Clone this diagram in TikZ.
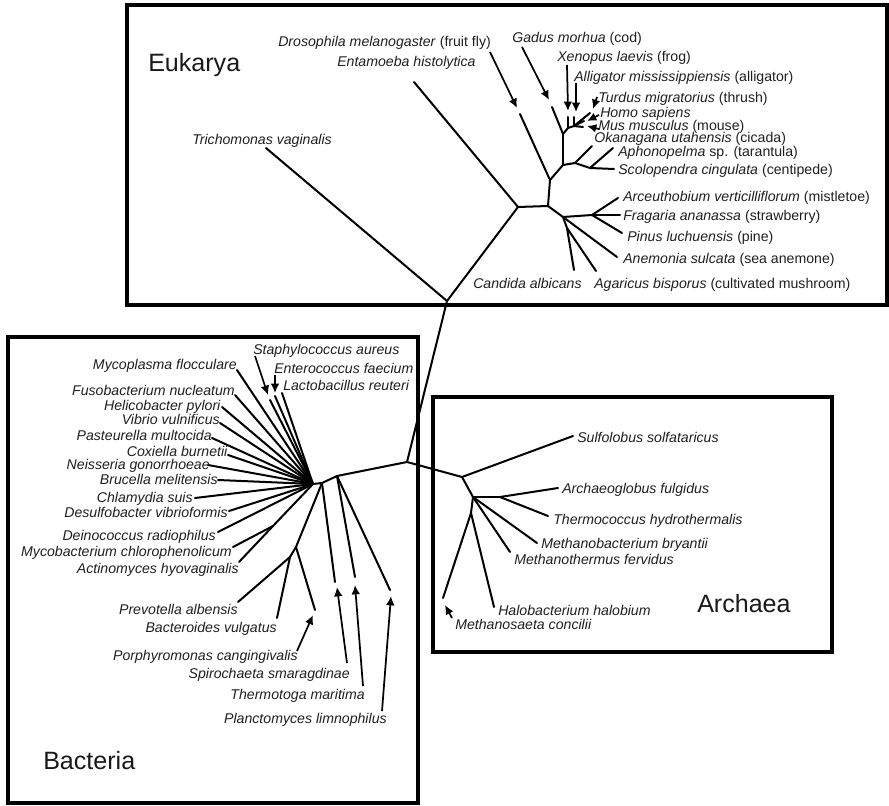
\documentclass[tikz,border=0pt]{standalone}
\usepackage{fontspec}
\setmainfont{Liberation Sans}
\usetikzlibrary{arrows.meta}
\begin{document}
\begin{tikzpicture}[x=0.75pt,y=-0.75pt,
  br/.style={line width=1.5pt, line cap=round, line join=round},
  domainbox/.style={line width=2.4pt},
  ptr/.style={line width=1.3pt, -{Latex[length=7pt,width=6.5pt]}},
  lab/.style={inner sep=0pt, text=black!88, font=\fontsize{10.6}{12}\selectfont},
  dom/.style={inner sep=0pt, text=black!90, font=\fontsize{18.8}{22}\selectfont}]
\useasboundingbox (0,0) rectangle (889,806);

% domain boxes
\draw[domainbox] (127,5) rectangle (887,305);
\draw[domainbox] (8,337) rectangle (418,803);
\draw[domainbox] (433,397) rectangle (832,652);

\node[dom, anchor=base west] (dEuk) at (148,72) {Eukarya};
\node[dom, anchor=base west] (dBac) at (43,769) {Bacteria};
\node[dom, anchor=base west] (dArc) at (697,612) {Archaea};

% ---------------- tree coordinates ----------------
\coordinate (R) at (407,462);
% Eukarya
\coordinate (E0) at (447,301);
\coordinate (lTri) at (266,148);
\coordinate (E1) at (518,207);
\coordinate (lEnt) at (414,82);
\coordinate (E2) at (548,206);
\coordinate (E3) at (550,180);
\coordinate (lDro) at (520,114);
\coordinate (E4) at (563,165);
\coordinate (V0) at (563,134);
\coordinate (lGad) at (552,107);
\coordinate (V1) at (568,128);
\coordinate (lXen) at (568,117);
\coordinate (V2) at (574,126);
\coordinate (lAll) at (574,117);
\coordinate (lTur) at (590,113);
\coordinate (lHom) at (584,121);
\coordinate (lMus) at (583,127);
\coordinate (E7) at (575,163);
\coordinate (lOka) at (592,146);
\coordinate (E9) at (590,168);
\coordinate (lAph) at (613,148);
\coordinate (lSco) at (614,169);
\coordinate (E5) at (563,217);
\coordinate (E6) at (592,215);
\coordinate (lArc) at (618,198);
\coordinate (lFra) at (620,215);
\coordinate (lPin) at (622,233);
\coordinate (lAne) at (617,257);
\coordinate (E8) at (567,228);
\coordinate (lCan) at (574,270);
\coordinate (lAga) at (596,271);
% Bacteria
\coordinate (B0) at (337,476);
\coordinate (B1) at (322,483);
\coordinate (F) at (313,484);
\coordinate (lSta) at (270,400);
\coordinate (lEnc) at (275,396);
\coordinate (lLac) at (282,393);
\coordinate (lMyp) at (237,370);
\coordinate (lFus) at (235,395);
\coordinate (lHel) at (222,407);
\coordinate (lVib) at (220,423);
\coordinate (lPas) at (212,438);
\coordinate (lCox) at (228,455);
\coordinate (lNei) at (208,465);
\coordinate (lBru) at (218,480);
\coordinate (lChl) at (195,498);
\coordinate (lDes) at (229,511);
\coordinate (lDei) at (218,532);
\coordinate (BM) at (273,526);
\coordinate (lMyb) at (233,547);
\coordinate (lAct) at (239,562);
\coordinate (B3) at (296,547);
\coordinate (B4) at (290,557);
\coordinate (lPre) at (238,602);
\coordinate (lBcd) at (277,618);
\coordinate (lPor) at (315,610);
\coordinate (lSpi) at (335,582);
\coordinate (lThm) at (355,577);
\coordinate (lPla) at (390,590);
% Archaea
\coordinate (A0) at (462,477);
\coordinate (lSul) at (573,436);
\coordinate (A1) at (473,497);
\coordinate (A2) at (500,497);
\coordinate (lArg) at (558,488);
\coordinate (lThc) at (548,516);
\coordinate (lMbb) at (537,543);
\coordinate (lMtf) at (510,552);
\coordinate (A3) at (471,513);
\coordinate (lMsa) at (443,598);
\coordinate (lHal) at (494,607);

% ---------------- branches ----------------
\draw[br] (R) -- (E0);
\draw[br] (E0) -- (lTri);
\draw[br] (E0) -- (E1);
\draw[br] (E1) -- (lEnt);
\draw[br] (E1) -- (E2);
\draw[br] (E2) -- (E3);
\draw[br] (E3) -- (lDro);
\draw[br] (E3) -- (E4);
\draw[br] (E4) -- (V0);
\draw[br] (V0) -- (lGad);
\draw[br] (V0) -- (V1);
\draw[br] (V1) -- (lXen);
\draw[br] (V1) -- (V2);
\draw[br] (V2) -- (lAll);
\draw[br] (V2) -- (lTur);
\draw[br] (V2) -- (lHom);
\draw[br] (V2) -- (lMus);
\draw[br] (E4) -- (E7);
\draw[br] (E7) -- (lOka);
\draw[br] (E7) -- (E9);
\draw[br] (E9) -- (lAph);
\draw[br] (E9) -- (lSco);
\draw[br] (E2) -- (E5);
\draw[br] (E5) -- (E6);
\draw[br] (E6) -- (lArc);
\draw[br] (E6) -- (lFra);
\draw[br] (E6) -- (lPin);
\draw[br] (E5) -- (lAne);
\draw[br] (E5) -- (E8);
\draw[br] (E8) -- (lCan);
\draw[br] (E8) -- (lAga);

\draw[br] (R) -- (B0);
\draw[br] (B0) -- (B1);
\draw[br] (B1) -- (F);
\foreach \l in {lSta,lEnc,lLac,lMyp,lFus,lHel,lVib,lPas,lCox,lNei,lBru,lChl,lDes,lDei,BM}
  \draw[br] (F) -- (\l);
\draw[br] (BM) -- (lMyb);
\draw[br] (BM) -- (lAct);
\draw[br] (B1) -- (B3);
\draw[br] (B3) -- (B4);
\draw[br] (B4) -- (lPre);
\draw[br] (B4) -- (lBcd);
\draw[br] (B3) -- (lPor);
\draw[br] (B1) -- (lSpi);
\draw[br] (B0) -- (lThm);
\draw[br] (B0) -- (lPla);

\draw[br] (R) -- (A0);
\draw[br] (A0) -- (lSul);
\draw[br] (A0) -- (A1);
\draw[br] (A1) -- (A2);
\draw[br] (A2) -- (lArg);
\draw[br] (A2) -- (lThc);
\draw[br] (A1) -- (lMbb);
\draw[br] (A1) -- (lMtf);
\draw[br] (A1) -- (A3);
\draw[br] (A3) -- (lMsa);
\draw[br] (A3) -- (lHal);

% ---------------- pointer arrows ----------------
\coordinate (pDro0) at (490,52);   \coordinate (pDro1) at (517,108);
\coordinate (pGad0) at (522,47);   \coordinate (pGad1) at (549,100);
\coordinate (pXen0) at (567,65);   \coordinate (pXen1) at (568,111);
\coordinate (pAll0) at (576,83);   \coordinate (pAll1) at (576,112);
\coordinate (pTur0) at (597,97);   \coordinate (pTur1) at (593,109);
\coordinate (pHom0) at (599,115);  \coordinate (pHom1) at (587,121);
\coordinate (pMus0) at (599,129);  \coordinate (pMus1) at (587,126);
\coordinate (pSta0) at (255,356);  \coordinate (pSta1) at (268,395);
\coordinate (pEnc0) at (275,375);  \coordinate (pEnc1) at (275,393);
\coordinate (pPor0) at (297,651);  \coordinate (pPor1) at (313,615);
\coordinate (pSpi0) at (347,663);  \coordinate (pSpi1) at (337,587);
\coordinate (pThm0) at (363,686);  \coordinate (pThm1) at (355,585);
\coordinate (pPla0) at (382,711);  \coordinate (pPla1) at (391,596);
\coordinate (pMsa0) at (452,618);  \coordinate (pMsa1) at (445,605);
\foreach \p in {Dro,Gad,Xen,All,Tur,Hom,Mus,Sta,Enc,Por,Spi,Thm,Pla,Msa}
  \draw[ptr] (p\p0) -- (p\p1);

% ---------------- labels ----------------
\node[lab, anchor=base west] (tDro) at (278,47) {\textit{Drosophila melanogaster} (fruit fly)};
\node[lab, anchor=base west] (tEnt) at (337,67) {\textit{Entamoeba histolytica}};
\node[lab, anchor=base west] (tTri) at (192,145) {\textit{Trichomonas vaginalis}};
\node[lab, anchor=base west] (tGad) at (512,43) {\textit{Gadus morhua} (cod)};
\node[lab, anchor=base west] (tXen) at (557,62) {\textit{Xenopus laevis} (frog)};
\node[lab, anchor=base west] (tAll) at (574,82) {\textit{Alligator mississippiensis} (alligator)};
\node[lab, anchor=base west] (tTur) at (598,103) {\textit{Turdus migratorius} (thrush)};
\node[lab, anchor=base west] (tHom) at (600,118) {\textit{Homo sapiens}};
\node[lab, anchor=base west] (tMus) at (598,131) {\textit{Mus musculus} (mouse)};
\node[lab, anchor=base west] (tOka) at (594,143) {\textit{Okanagana utahensis} (cicada)};
\node[lab, anchor=base west] (tAph) at (618,157) {\textit{Aphonopelma} sp. (tarantula)};
\node[lab, anchor=base west] (tSco) at (618,175) {\textit{Scolopendra cingulata} (centipede)};
\node[lab, anchor=base west] (tArc) at (623,202) {\textit{Arceuthobium verticilliflorum} (mistletoe)};
\node[lab, anchor=base west] (tFra) at (623,221) {\textit{Fragaria ananassa} (strawberry)};
\node[lab, anchor=base west] (tPin) at (627,242) {\textit{Pinus luchuensis} (pine)};
\node[lab, anchor=base west] (tAne) at (623,263) {\textit{Anemonia sulcata} (sea anemone)};
\node[lab, anchor=base west] (tCan) at (473,288) {\textit{Candida albicans}};
\node[lab, anchor=base west] (tAga) at (594,288) {\textit{Agaricus bisporus} (cultivated mushroom)};

\node[lab, anchor=base west] (tSta) at (253,354) {\textit{Staphylococcus aureus}};
\node[lab, anchor=base west] (tEnc) at (274,373) {\textit{Enterococcus faecium}};
\node[lab, anchor=base west] (tLac) at (283,390) {\textit{Lactobacillus reuteri}};
\node[lab, anchor=base east] (tMyp) at (237,369) {\textit{Mycoplasma flocculare}};
\node[lab, anchor=base east] (tFus) at (235,395) {\textit{Fusobacterium nucleatum}};
\node[lab, anchor=base east] (tHel) at (221,410) {\textit{Helicobacter pylori}};
\node[lab, anchor=base east] (tVib) at (220,424) {\textit{Vibrio vulnificus}};
\node[lab, anchor=base east] (tPas) at (212,440) {\textit{Pasteurella multocida}};
\node[lab, anchor=base east] (tCox) at (228,456) {\textit{Coxiella burnetii}};
\node[lab, anchor=base east] (tNei) at (210,469) {\textit{Neisseria gonorrhoeae}};
\node[lab, anchor=base east] (tBru) at (218,484) {\textit{Brucella melitensis}};
\node[lab, anchor=base east] (tChl) at (193,502) {\textit{Chlamydia suis}};
\node[lab, anchor=base east] (tDes) at (228,517) {\textit{Desulfobacter vibrioformis}};
\node[lab, anchor=base east] (tDei) at (216,540) {\textit{Deinococcus radiophilus}};
\node[lab, anchor=base east] (tMyb) at (232,556) {\textit{Mycobacterium chlorophenolicum}};
\node[lab, anchor=base east] (tAct) at (239,573) {\textit{Actinomyces hyovaginalis}};
\node[lab, anchor=base east] (tPre) at (238,614) {\textit{Prevotella albensis}};
\node[lab, anchor=base east] (tBcd) at (277,632) {\textit{Bacteroides vulgatus}};
\node[lab, anchor=base east] (tPor) at (298,660) {\textit{Porphyromonas cangingivalis}};
\node[lab, anchor=base east] (tSpi) at (350,678) {\textit{Spirochaeta smaragdinae}};
\node[lab, anchor=base east] (tThm) at (365,699) {\textit{Thermotoga maritima}};
\node[lab, anchor=base east] (tPla) at (387,723) {\textit{Planctomyces limnophilus}};

\node[lab, anchor=base west] (tSul) at (577,442) {\textit{Sulfolobus solfataricus}};
\node[lab, anchor=base west] (tArg) at (562,493) {\textit{Archaeoglobus fulgidus}};
\node[lab, anchor=base west] (tThc) at (553,524) {\textit{Thermococcus hydrothermalis}};
\node[lab, anchor=base west] (tMbb) at (541,548) {\textit{Methanobacterium bryantii}};
\node[lab, anchor=base west] (tMtf) at (514,564) {\textit{Methanothermus fervidus}};
\node[lab, anchor=base west] (tHal) at (498,615) {\textit{Halobacterium halobium}};
\node[lab, anchor=base west] (tMsa) at (455,629) {\textit{Methanosaeta concilii}};
\end{tikzpicture}
\end{document}
